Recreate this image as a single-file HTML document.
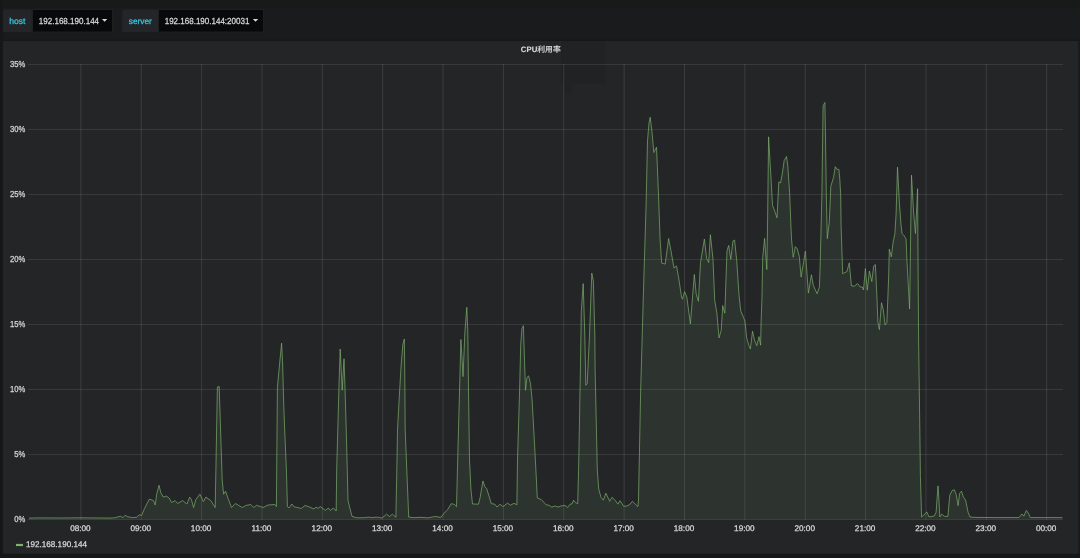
<!DOCTYPE html>
<html><head><meta charset="utf-8"><title>CPU利用率</title>
<style>
html,body{margin:0;padding:0;}
body{width:1080px;height:558px;overflow:hidden;background:#1a1b1c;position:relative;font-family:"Liberation Sans","Noto Sans CJK SC",sans-serif;}
svg{position:absolute;left:0;top:0;}
text{font-family:"Liberation Sans","Noto Sans CJK SC",sans-serif;text-rendering:geometricPrecision;}
</style></head>
<body>
<svg width="1080" height="558" viewBox="0 0 1080 558">
<rect x="0" y="0" width="1080" height="558" fill="#1a1b1c"/>
<rect x="0" y="0" width="1080" height="8" fill="#181a19"/>
<rect x="0" y="0" width="2.5" height="558" fill="#161718"/>
<rect x="0" y="553.7" width="1080" height="4.3" fill="#151617"/>
<rect x="2.5" y="39.8" width="1077.5" height="1.2" fill="#161718"/>
<!-- submenu -->
<rect x="3" y="9.6" width="28.8" height="22.4" rx="1" fill="#232528"/>
<rect x="32" y="9" width="81.5" height="23.6" rx="1.5" fill="#1e1f21"/>
<rect x="33" y="10.1" width="79" height="21.5" rx="0.5" fill="#08090b"/>
<rect x="122.3" y="9.6" width="36.2" height="22.4" rx="1" fill="#232528"/>
<rect x="158" y="9" width="106.6" height="23.6" rx="1.5" fill="#1e1f21"/>
<rect x="159" y="10.1" width="104" height="21.5" rx="0.5" fill="#08090b"/>
<g fill="#32cbdf" stroke="#32cbdf" stroke-width="0.25">
<text x="9.20" y="23.6" font-size="8.6" text-anchor="start">host</text>
<text x="128.80" y="23.6" font-size="8.3" text-anchor="start">server</text>
</g>
<g fill="#d8d9da" stroke="#d8d9da" stroke-width="0.25">
<text x="38.80" y="23.6" font-size="8.9" text-anchor="start" textLength="60.3" lengthAdjust="spacingAndGlyphs">192.168.190.144</text>
<text x="164.70" y="23.6" font-size="8.9" text-anchor="start" textLength="84.7" lengthAdjust="spacingAndGlyphs">192.168.190.144:20031</text>
</g>
<path d="M102,19 L107.2,19 L104.6,21.8 Z" fill="#d8d9da"/>
<path d="M252.9,18.9 L258.2,18.9 L255.55,21.7 Z" fill="#d8d9da"/>
<!-- panel -->
<rect x="3" y="41" width="1075.2" height="512.7" rx="1.5" fill="#242527"/>
<rect x="561" y="41" width="44.5" height="42.5" fill="#212224"/>
<rect x="564.4" y="83.5" width="7.8" height="9.5" fill="#212224"/>
<g fill="#d8d9da" stroke="#d8d9da" stroke-width="0.25"><text x="540.80" y="52.4" font-size="7.8" text-anchor="middle"><tspan font-weight="bold" stroke-width="0.1">CPU</tspan><tspan font-weight="500" stroke-width="0.12">利用率</tspan></text></g>
<g stroke="rgba(255,255,255,0.095)" stroke-width="1" shape-rendering="crispEdges">
<line x1="28.3" y1="64.5" x2="1063" y2="64.5"/>
<line x1="28.3" y1="129.5" x2="1063" y2="129.5"/>
<line x1="28.3" y1="194.5" x2="1063" y2="194.5"/>
<line x1="28.3" y1="259.5" x2="1063" y2="259.5"/>
<line x1="28.3" y1="324.5" x2="1063" y2="324.5"/>
<line x1="28.3" y1="389.5" x2="1063" y2="389.5"/>
<line x1="28.3" y1="454.5" x2="1063" y2="454.5"/>
<line x1="28.3" y1="519.5" x2="1063" y2="519.5"/>
</g>
<g stroke="rgba(255,255,255,0.11)" stroke-width="1">
<line x1="80.90" y1="64.0" x2="80.90" y2="520.0"/>
<line x1="141.26" y1="64.0" x2="141.26" y2="520.0"/>
<line x1="201.62" y1="64.0" x2="201.62" y2="520.0"/>
<line x1="261.98" y1="64.0" x2="261.98" y2="520.0"/>
<line x1="322.34" y1="64.0" x2="322.34" y2="520.0"/>
<line x1="382.70" y1="64.0" x2="382.70" y2="520.0"/>
<line x1="443.06" y1="64.0" x2="443.06" y2="520.0"/>
<line x1="503.42" y1="64.0" x2="503.42" y2="520.0"/>
<line x1="563.78" y1="64.0" x2="563.78" y2="520.0"/>
<line x1="624.14" y1="64.0" x2="624.14" y2="520.0"/>
<line x1="684.50" y1="64.0" x2="684.50" y2="520.0"/>
<line x1="744.86" y1="64.0" x2="744.86" y2="520.0"/>
<line x1="805.22" y1="64.0" x2="805.22" y2="520.0"/>
<line x1="865.58" y1="64.0" x2="865.58" y2="520.0"/>
<line x1="925.94" y1="64.0" x2="925.94" y2="520.0"/>
<line x1="986.30" y1="64.0" x2="986.30" y2="520.0"/>
<line x1="1046.66" y1="64.0" x2="1046.66" y2="520.0"/>
</g>
<polygon points="29,519.5 29,518.1 40,517.9 60,518 80,517.8 100,518 110,518.1 114.9,517.8 120.4,516.2 122.8,517.5 125.3,515.4 127.8,516.8 132.7,517.6 136.6,517.3 139.1,514.9 141.6,515.4 144.5,508.5 149.4,499.1 153.4,500.6 155.2,505 156.8,493.7 159,485.3 160.8,492.7 163.3,497.1 166.2,496.1 169.2,498.1 171.6,502.5 175.1,500.6 177.6,503.5 182.5,500.6 186.9,504 189.7,497.1 191.4,499.6 193.6,507.5 195.8,499.6 199.9,494.2 203.4,501.6 205.8,497.1 210.8,500.6 215.2,507.5 217.4,387 219.2,386.5 219.7,403 222.2,480 223.6,494.2 225.6,491.2 228.5,499.6 231.5,507.5 235.4,503.5 238.9,505.5 242.3,507.5 245.8,505.5 250.7,504.5 253.7,507.5 256.6,505.3 263,507.5 268,505 274.9,504.5 276.4,506.5 277.4,387.8 279.1,369 281.6,343.2 282.5,360.5 283.7,403 284.7,430 286.4,470 287.4,506.5 288.9,508 291.8,504 294.3,507 297.8,507.5 301.2,508.5 305.1,505.5 309.6,507 314,509 316,507 318,508.5 320.2,506.5 325.4,510.4 328.3,508 330.3,510.4 333.3,508 336.2,511 336.7,470 337.5,440 339,384.8 340.2,349 342.2,390.2 344,358.8 345.2,393.8 346.5,440 348,500.6 352,516.4 356.9,517.8 365,517.7 368.5,517.1 372,517.7 376.7,517.1 381.9,518 386.6,514.2 389.5,516.5 392.4,514.2 395.9,517.3 397,460 397.5,430 399,401.7 401.1,365.8 402.9,344.3 404.3,339 404.7,365.8 405.2,430 406.4,460 408.7,517.1 414,517.7 421,517.3 427.9,517.9 434.9,516.5 440.8,517.3 444.3,513 447.7,509.5 451.2,503.7 454.2,504.3 456.5,506.6 457.7,460 460.9,339.5 463,376.6 464.9,332 466.8,307.3 467.8,332 468.5,390 469.5,460 470.9,489 472.5,504 478.5,504.2 480.2,497.3 482.9,481 484.9,486.8 486.6,488.5 489,496.1 491.3,503.7 494.8,504.2 497.1,507.1 500,504.2 502.9,506.6 507.6,503.1 510.5,505.2 514,503.3 516.9,504.8 517.5,460 519.6,390 520.7,345.4 521.9,328.7 523.4,325.7 524.5,360.7 525.5,390.3 527,377.4 528.6,375.9 530.5,383.5 532.1,400 535.1,454.5 537.3,498 541.3,499.6 546,504.8 548.9,505.2 551.8,507.1 555.3,506 557.9,507.1 560.8,506 564.9,505.4 567.6,507.5 570.1,504.2 571.9,504 573.6,500.2 575.4,502.5 577.7,503.7 578.6,470 580.4,370 581.3,311.6 583.2,283.6 584.8,335 585.8,385.3 587.2,383.9 589.5,335 591.8,273.2 593.4,281.3 594.8,335 595.1,370 597.3,470 598.7,489.1 601,497.3 603.3,500.2 605.9,493.2 609.7,501.3 612,497.3 615.5,500.7 617.9,504.2 620,500.7 623.7,506.3 626.6,506 629.5,504.8 632.4,501.3 637.9,506.6 638.5,500 640.6,392.9 643.5,290 646.1,205 647.5,140.8 649,122.9 650.2,117.2 652,131.9 653.8,152.5 656.5,147.1 657.4,167.7 658.7,200 660.1,239.4 661.7,263.1 665.2,264.1 668.6,238.5 671,251 674,268 676.5,265.9 679,280 681.5,297 682.5,299.2 684.6,291.7 686.8,297 690.4,323.9 694.3,274.5 696.2,293.8 698.4,301.3 700.5,262.6 704.4,239 706.6,258.3 708.7,262.6 710.4,234.7 713,259.4 714.7,300.3 716.9,313.2 719,337.9 721.2,330.4 722.7,305.6 724.8,313.2 727,250.8 728.7,245.4 730.8,259.4 732.9,241.1 734.6,240.1 736.8,261.6 738.9,293.8 740.7,310.8 743.9,318.3 745,321.5 746.6,337.7 748.8,345.2 750.4,349 752.5,331.2 754.7,340.9 756.8,345.7 759,336.6 760.6,345.2 761.1,321.5 761.9,300 762.7,258 764.6,238.3 766.8,269.5 767.6,220 768.6,136.8 770.8,174.8 772.5,205.3 775.2,212.4 777,217.8 778.8,182 780.6,182.9 782.4,173 784.2,160.5 786.5,156.5 787.8,165.8 789.6,192.7 791,228 791.6,240 793.2,257.3 795.3,246.6 797.3,248.9 799.3,256.5 801.1,277.1 805.4,251.2 806.4,265.7 808.4,293.1 811.4,274.8 813.3,285.4 817.1,293.8 819.4,287 820.1,267.5 821.9,195 823.1,105.8 824.9,102.5 825.4,130.8 826.3,195 827.3,238.6 829.3,222.1 830.8,186.4 833.5,177.4 835.3,166.7 837.1,169.4 838.9,169.4 839.8,179.2 840.7,195 841.1,226.2 842.7,273.7 846.9,271.6 849.3,262.9 851.4,286 854.7,286 857.6,283.6 860.3,287.1 862.3,287 863.5,290 865.4,268.6 867.3,290.2 869.4,271 871.8,281.5 873.7,266 875.4,264.5 877,299.1 877.9,322.4 879.4,329.6 881.5,302.7 883.3,309.9 885.1,325.1 886.9,322.4 888.7,275.8 889.3,249 891.3,256.8 893.1,242.4 894.9,233.5 896.1,213.8 897.5,167.2 899.3,201.2 900.8,222.7 902,233.5 903.8,235.3 906.1,238.9 906.9,260 909.6,309 911.5,175.2 913.7,213.8 915.5,233.5 917.6,188.7 917.9,240 918.6,340 919.7,420 920.4,476.5 921.6,517 923.8,515.1 926.7,511.9 929.1,517 934.2,516 936.1,512.3 938,485.9 938.9,499.1 939.8,517 941.7,514.2 944.5,516.4 947.9,516.4 949.8,495.3 952.1,490.6 954.3,489.7 956.2,494.4 958.1,505.7 959.6,493.4 961.5,491.2 963.4,497.2 965.6,500 968.1,512.3 970,517 975,517.4 1000,517.6 1018.9,517.6 1022,514 1023.8,516.2 1026.4,510.4 1028.2,513.1 1030.4,517.6 1062.4,517.6 1062.4,519.5" fill="rgba(126,178,109,0.10)"/>
<defs><filter id="b" x="-1%" y="-1%" width="102%" height="102%"><feGaussianBlur stdDeviation="0.3"/></filter></defs>
<polyline filter="url(#b)" points="29,518.1 40,517.9 60,518 80,517.8 100,518 110,518.1 114.9,517.8 120.4,516.2 122.8,517.5 125.3,515.4 127.8,516.8 132.7,517.6 136.6,517.3 139.1,514.9 141.6,515.4 144.5,508.5 149.4,499.1 153.4,500.6 155.2,505 156.8,493.7 159,485.3 160.8,492.7 163.3,497.1 166.2,496.1 169.2,498.1 171.6,502.5 175.1,500.6 177.6,503.5 182.5,500.6 186.9,504 189.7,497.1 191.4,499.6 193.6,507.5 195.8,499.6 199.9,494.2 203.4,501.6 205.8,497.1 210.8,500.6 215.2,507.5 217.4,387 219.2,386.5 219.7,403 222.2,480 223.6,494.2 225.6,491.2 228.5,499.6 231.5,507.5 235.4,503.5 238.9,505.5 242.3,507.5 245.8,505.5 250.7,504.5 253.7,507.5 256.6,505.3 263,507.5 268,505 274.9,504.5 276.4,506.5 277.4,387.8 279.1,369 281.6,343.2 282.5,360.5 283.7,403 284.7,430 286.4,470 287.4,506.5 288.9,508 291.8,504 294.3,507 297.8,507.5 301.2,508.5 305.1,505.5 309.6,507 314,509 316,507 318,508.5 320.2,506.5 325.4,510.4 328.3,508 330.3,510.4 333.3,508 336.2,511 336.7,470 337.5,440 339,384.8 340.2,349 342.2,390.2 344,358.8 345.2,393.8 346.5,440 348,500.6 352,516.4 356.9,517.8 365,517.7 368.5,517.1 372,517.7 376.7,517.1 381.9,518 386.6,514.2 389.5,516.5 392.4,514.2 395.9,517.3 397,460 397.5,430 399,401.7 401.1,365.8 402.9,344.3 404.3,339 404.7,365.8 405.2,430 406.4,460 408.7,517.1 414,517.7 421,517.3 427.9,517.9 434.9,516.5 440.8,517.3 444.3,513 447.7,509.5 451.2,503.7 454.2,504.3 456.5,506.6 457.7,460 460.9,339.5 463,376.6 464.9,332 466.8,307.3 467.8,332 468.5,390 469.5,460 470.9,489 472.5,504 478.5,504.2 480.2,497.3 482.9,481 484.9,486.8 486.6,488.5 489,496.1 491.3,503.7 494.8,504.2 497.1,507.1 500,504.2 502.9,506.6 507.6,503.1 510.5,505.2 514,503.3 516.9,504.8 517.5,460 519.6,390 520.7,345.4 521.9,328.7 523.4,325.7 524.5,360.7 525.5,390.3 527,377.4 528.6,375.9 530.5,383.5 532.1,400 535.1,454.5 537.3,498 541.3,499.6 546,504.8 548.9,505.2 551.8,507.1 555.3,506 557.9,507.1 560.8,506 564.9,505.4 567.6,507.5 570.1,504.2 571.9,504 573.6,500.2 575.4,502.5 577.7,503.7 578.6,470 580.4,370 581.3,311.6 583.2,283.6 584.8,335 585.8,385.3 587.2,383.9 589.5,335 591.8,273.2 593.4,281.3 594.8,335 595.1,370 597.3,470 598.7,489.1 601,497.3 603.3,500.2 605.9,493.2 609.7,501.3 612,497.3 615.5,500.7 617.9,504.2 620,500.7 623.7,506.3 626.6,506 629.5,504.8 632.4,501.3 637.9,506.6 638.5,500 640.6,392.9 643.5,290 646.1,205 647.5,140.8 649,122.9 650.2,117.2 652,131.9 653.8,152.5 656.5,147.1 657.4,167.7 658.7,200 660.1,239.4 661.7,263.1 665.2,264.1 668.6,238.5 671,251 674,268 676.5,265.9 679,280 681.5,297 682.5,299.2 684.6,291.7 686.8,297 690.4,323.9 694.3,274.5 696.2,293.8 698.4,301.3 700.5,262.6 704.4,239 706.6,258.3 708.7,262.6 710.4,234.7 713,259.4 714.7,300.3 716.9,313.2 719,337.9 721.2,330.4 722.7,305.6 724.8,313.2 727,250.8 728.7,245.4 730.8,259.4 732.9,241.1 734.6,240.1 736.8,261.6 738.9,293.8 740.7,310.8 743.9,318.3 745,321.5 746.6,337.7 748.8,345.2 750.4,349 752.5,331.2 754.7,340.9 756.8,345.7 759,336.6 760.6,345.2 761.1,321.5 761.9,300 762.7,258 764.6,238.3 766.8,269.5 767.6,220 768.6,136.8 770.8,174.8 772.5,205.3 775.2,212.4 777,217.8 778.8,182 780.6,182.9 782.4,173 784.2,160.5 786.5,156.5 787.8,165.8 789.6,192.7 791,228 791.6,240 793.2,257.3 795.3,246.6 797.3,248.9 799.3,256.5 801.1,277.1 805.4,251.2 806.4,265.7 808.4,293.1 811.4,274.8 813.3,285.4 817.1,293.8 819.4,287 820.1,267.5 821.9,195 823.1,105.8 824.9,102.5 825.4,130.8 826.3,195 827.3,238.6 829.3,222.1 830.8,186.4 833.5,177.4 835.3,166.7 837.1,169.4 838.9,169.4 839.8,179.2 840.7,195 841.1,226.2 842.7,273.7 846.9,271.6 849.3,262.9 851.4,286 854.7,286 857.6,283.6 860.3,287.1 862.3,287 863.5,290 865.4,268.6 867.3,290.2 869.4,271 871.8,281.5 873.7,266 875.4,264.5 877,299.1 877.9,322.4 879.4,329.6 881.5,302.7 883.3,309.9 885.1,325.1 886.9,322.4 888.7,275.8 889.3,249 891.3,256.8 893.1,242.4 894.9,233.5 896.1,213.8 897.5,167.2 899.3,201.2 900.8,222.7 902,233.5 903.8,235.3 906.1,238.9 906.9,260 909.6,309 911.5,175.2 913.7,213.8 915.5,233.5 917.6,188.7 917.9,240 918.6,340 919.7,420 920.4,476.5 921.6,517 923.8,515.1 926.7,511.9 929.1,517 934.2,516 936.1,512.3 938,485.9 938.9,499.1 939.8,517 941.7,514.2 944.5,516.4 947.9,516.4 949.8,495.3 952.1,490.6 954.3,489.7 956.2,494.4 958.1,505.7 959.6,493.4 961.5,491.2 963.4,497.2 965.6,500 968.1,512.3 970,517 975,517.4 1000,517.6 1018.9,517.6 1022,514 1023.8,516.2 1026.4,510.4 1028.2,513.1 1030.4,517.6 1062.4,517.6" fill="none" stroke="#7eb26d" stroke-width="1" stroke-opacity="0.68" stroke-linejoin="round"/>
<g fill="#d8d9da" stroke="#d8d9da" stroke-width="0.25">
<text x="25.2" y="522.10" font-size="8.7" text-anchor="end" textLength="11.06" lengthAdjust="spacingAndGlyphs">0%</text>
<text x="25.2" y="457.10" font-size="8.7" text-anchor="end" textLength="11.06" lengthAdjust="spacingAndGlyphs">5%</text>
<text x="25.2" y="392.10" font-size="8.7" text-anchor="end" textLength="15.32" lengthAdjust="spacingAndGlyphs">10%</text>
<text x="25.2" y="327.10" font-size="8.7" text-anchor="end" textLength="15.32" lengthAdjust="spacingAndGlyphs">15%</text>
<text x="25.2" y="262.10" font-size="8.7" text-anchor="end" textLength="15.32" lengthAdjust="spacingAndGlyphs">20%</text>
<text x="25.2" y="197.10" font-size="8.7" text-anchor="end" textLength="15.32" lengthAdjust="spacingAndGlyphs">25%</text>
<text x="25.2" y="132.10" font-size="8.7" text-anchor="end" textLength="15.32" lengthAdjust="spacingAndGlyphs">30%</text>
<text x="25.2" y="67.10" font-size="8.7" text-anchor="end" textLength="15.32" lengthAdjust="spacingAndGlyphs">35%</text>
</g>
<g fill="#d8d9da" stroke="#d8d9da" stroke-width="0.25">
<text x="80.40" y="530.6" font-size="8.2" text-anchor="middle">08:00</text>
<text x="140.76" y="530.6" font-size="8.2" text-anchor="middle">09:00</text>
<text x="201.12" y="530.6" font-size="8.2" text-anchor="middle">10:00</text>
<text x="261.48" y="530.6" font-size="8.2" text-anchor="middle">11:00</text>
<text x="321.84" y="530.6" font-size="8.2" text-anchor="middle">12:00</text>
<text x="382.20" y="530.6" font-size="8.2" text-anchor="middle">13:00</text>
<text x="442.56" y="530.6" font-size="8.2" text-anchor="middle">14:00</text>
<text x="502.92" y="530.6" font-size="8.2" text-anchor="middle">15:00</text>
<text x="563.28" y="530.6" font-size="8.2" text-anchor="middle">16:00</text>
<text x="623.64" y="530.6" font-size="8.2" text-anchor="middle">17:00</text>
<text x="684.00" y="530.6" font-size="8.2" text-anchor="middle">18:00</text>
<text x="744.36" y="530.6" font-size="8.2" text-anchor="middle">19:00</text>
<text x="804.72" y="530.6" font-size="8.2" text-anchor="middle">20:00</text>
<text x="865.08" y="530.6" font-size="8.2" text-anchor="middle">21:00</text>
<text x="925.44" y="530.6" font-size="8.2" text-anchor="middle">22:00</text>
<text x="985.80" y="530.6" font-size="8.2" text-anchor="middle">23:00</text>
<text x="1046.16" y="530.6" font-size="8.2" text-anchor="middle">00:00</text>
</g>
<rect x="16" y="543.9" width="7" height="2.2" fill="#7eb26d"/>
<g fill="#d8d9da" stroke="#d8d9da" stroke-width="0.25"><text x="26.00" y="547.0" font-size="8.3" text-anchor="start" textLength="61" lengthAdjust="spacingAndGlyphs">192.168.190.144</text></g>
</svg>
</body></html>
